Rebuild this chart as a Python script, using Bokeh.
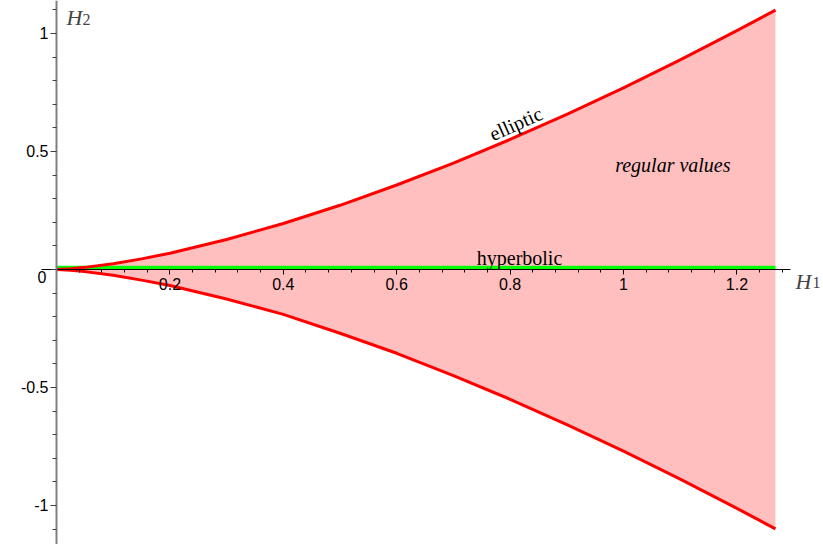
from bokeh.plotting import figure
from bokeh.models import FixedTicker, Label, Range1d
from bokeh.embed import file_html
from bokeh.resources import INLINE

# --- data ---
h1 = [0.0, 0.025, 0.05, 0.1, 0.15, 0.2, 0.3, 0.4, 0.5, 0.6, 0.7, 0.8, 0.9, 1.0, 1.1, 1.2, 1.268]
elliptic_upper = [0.0, 0.003, 0.009, 0.024, 0.045, 0.069, 0.127, 0.195, 0.272, 0.358,
                  0.451, 0.551, 0.657, 0.770, 0.888, 1.012, 1.099]
elliptic_lower = [0.0, -0.003, -0.009, -0.024, -0.045, -0.068, -0.125, -0.19, -0.27, -0.355,
                  -0.45, -0.55, -0.657, -0.77, -0.888, -1.012, -1.099]
hyperbolic_h1 = [0.0, 1.268]
hyperbolic_h2 = [0.007, 0.007]

x_major_ticks = [0.2, 0.4, 0.6, 0.8, 1.0, 1.2]
x_minor_ticks = [0.04, 0.08, 0.12, 0.16, 0.24, 0.28, 0.32, 0.36, 0.44, 0.48, 0.52, 0.56,
                 0.64, 0.68, 0.72, 0.76, 0.84, 0.88, 0.92, 0.96, 1.04, 1.08, 1.12, 1.16,
                 1.24, 1.28]
y_major_ticks = [-1.0, -0.5, 0.0, 0.5, 1.0]
y_major_labels = {-1.0: "-1", -0.5: "-0.5", 0.0: "", 0.5: "0.5", 1.0: "1"}
y_minor_ticks = [-1.1, -0.9, -0.8, -0.7, -0.6, -0.4, -0.3, -0.2, -0.1,
                 0.1, 0.2, 0.3, 0.4, 0.6, 0.7, 0.8, 0.9, 1.1]

SANS = "Liberation Sans"
SERIF = "Liberation Serif"

p = figure(width=823, height=544,
           x_range=Range1d(-0.0988, 1.3527), y_range=Range1d(-1.1653, 1.1398),
           output_backend="svg", toolbar_location=None,
           min_border=0, min_border_left=0, min_border_right=0,
           min_border_top=0, min_border_bottom=0,
           outline_line_color=None, background_fill_color="white",
           border_fill_color="white")
p.grid.visible = False

# regions and curves
p.varea(x=h1, y1=elliptic_lower, y2=elliptic_upper, fill_color="#FFBFBF", fill_alpha=1.0)
p.line(hyperbolic_h1, hyperbolic_h2, line_color="#00FF00", line_width=4)
p.line(h1, elliptic_upper, line_color="#FF0000", line_width=3, line_join="round")
p.line(h1, elliptic_lower, line_color="#FF0000", line_width=3, line_join="round")

# axes crossing at the origin
xa = p.xaxis[0]
xa.fixed_location = 0
xa.ticker = FixedTicker(ticks=x_major_ticks, minor_ticks=x_minor_ticks)
xa.bounds = (-0.027, 1.294)
xa.axis_line_color = "black"
xa.axis_line_width = 1
xa.major_tick_in = 0
xa.major_tick_out = 5
xa.minor_tick_in = 0
xa.minor_tick_out = 3
xa.major_tick_line_color = "black"
xa.minor_tick_line_color = "black"
xa.major_label_standoff = 4
xa.major_label_text_font = SANS
xa.major_label_text_font_size = "16px"
xa.major_label_text_color = "black"

ya = p.yaxis[0]
ya.fixed_location = 0
ya.ticker = FixedTicker(ticks=y_major_ticks, minor_ticks=y_minor_ticks)
ya.axis_line_color = "#808080"
ya.axis_line_width = 2
ya.major_tick_in = 0
ya.major_tick_out = 6
ya.minor_tick_in = 0
ya.minor_tick_out = 4
ya.major_tick_line_color = "#404040"
ya.minor_tick_line_color = "#404040"
ya.major_label_standoff = 2
ya.major_label_text_font = SANS
ya.major_label_text_font_size = "16px"
ya.major_label_text_color = "black"
ya.major_label_overrides = y_major_labels

# origin label
p.add_layout(Label(x=0, y=0, x_offset=-10, y_offset=-8, text="0",
                   text_font=SANS, text_font_size="16px", text_align="right",
                   text_baseline="middle", text_color="black"))

# axis titles H_1, H_2
p.add_layout(Label(x=1.3034, y=-0.0508, text="H", text_font=SERIF, text_font_style="italic",
                   text_font_size="22px", text_align="left", text_baseline="alphabetic"))
p.add_layout(Label(x=1.3333, y=-0.0551, text="1", text_font=SERIF,
                   text_font_size="16px", text_align="left", text_baseline="alphabetic"))
p.add_layout(Label(x=0.0176, y=1.0678, text="H", text_font=SERIF, text_font_style="italic",
                   text_font_size="22px", text_align="left", text_baseline="alphabetic"))
p.add_layout(Label(x=0.0459, y=1.0593, text="2", text_font=SERIF,
                   text_font_size="16px", text_align="left", text_baseline="alphabetic"))

# annotations
p.add_layout(Label(x=0.81, y=0.618, text="elliptic", text_font=SERIF, text_font_size="20px",
                   text_align="center", text_baseline="middle", angle=0.42, text_color="black"))
p.add_layout(Label(x=1.087, y=0.4407, text="regular values", text_font=SERIF,
                   text_font_style="italic", text_font_size="20px",
                   text_align="center", text_baseline="alphabetic", text_color="black"))
p.add_layout(Label(x=0.8166, y=0.0466, text="hyperbolic", text_font=SERIF, text_font_size="20px",
                   text_align="center", text_baseline="alphabetic", text_color="black"))

open("out.html", "w").write(file_html(p, INLINE))
